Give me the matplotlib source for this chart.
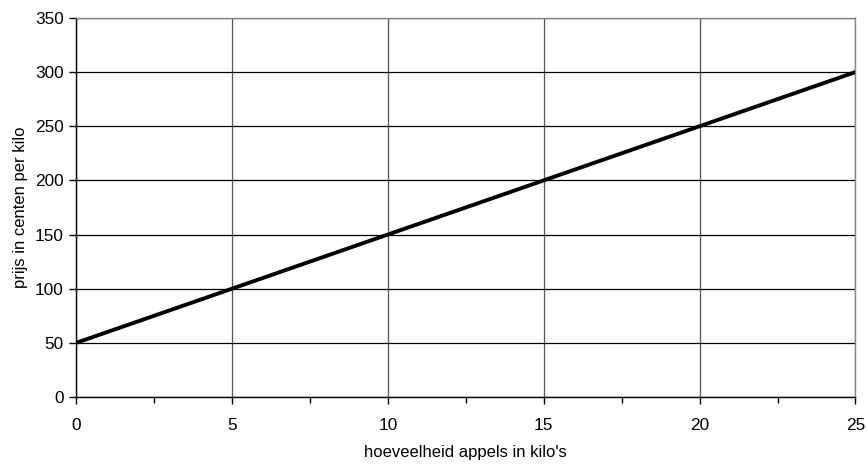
import matplotlib.pyplot as plt
from matplotlib.ticker import MultipleLocator

plt.rcParams["font.family"] = ["Liberation Sans", "DejaVu Sans"]

# prijs per kilo bij een gegeven hoeveelheid appels
kilos = [0, 25]
prijs = [50, 300]

fig = plt.figure(figsize=(8.67, 4.71), dpi=100)
ax = fig.add_axes([0.0877, 0.157, 0.899, 0.805])

ax.plot(kilos, prijs, color="black", linewidth=2.8, solid_capstyle="butt", zorder=3)

ax.set_xlim(0, 25)
ax.set_ylim(0, 350)
ax.xaxis.set_major_locator(MultipleLocator(5))
ax.xaxis.set_minor_locator(MultipleLocator(2.5))
ax.yaxis.set_major_locator(MultipleLocator(50))

ax.grid(True, axis="y", color="black", linewidth=0.9)
ax.grid(True, axis="x", color="#555555", linewidth=0.9)
ax.set_axisbelow(True)

for side in ("top", "right"):
    ax.spines[side].set_color("#888888")
    ax.spines[side].set_linewidth(1.0)
for side in ("left", "bottom"):
    ax.spines[side].set_color("black")
    ax.spines[side].set_linewidth(1.0)

ax.tick_params(axis="both", which="major", direction="out", length=5, width=1,
               labelsize=12.4, colors="black")
ax.tick_params(axis="x", which="major", pad=10)
ax.tick_params(axis="y", which="major", pad=4)
ax.tick_params(axis="x", which="minor", direction="out", length=4, width=1)

ax.set_xlabel("hoeveelheid appels in kilo's", fontsize=12, labelpad=9)
ax.set_ylabel("prijs in centen per kilo", fontsize=12, labelpad=5)

fig.savefig("out.png", dpi=100)
